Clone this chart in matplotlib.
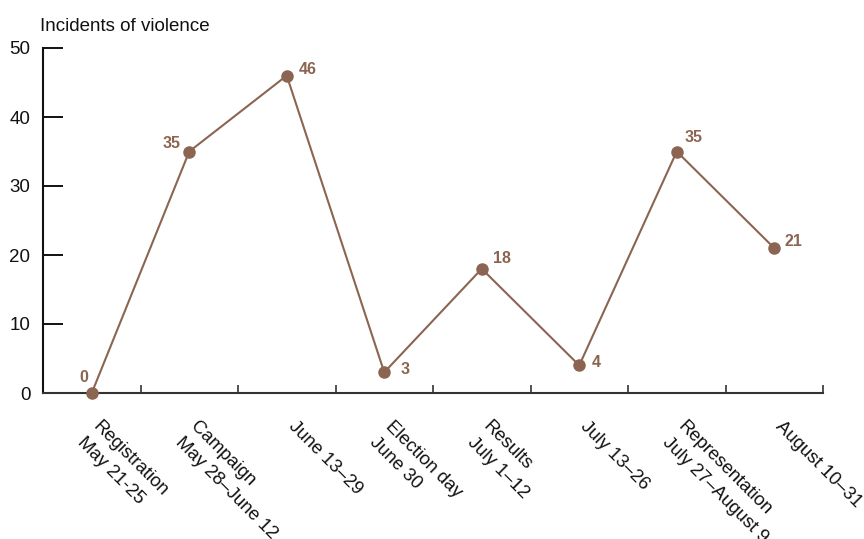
import matplotlib
matplotlib.use("Agg")
import matplotlib.pyplot as plt
from matplotlib.ticker import FixedLocator

plt.rcParams['font.family'] = ['Liberation Sans', 'DejaVu Sans']

# Periods and incident counts
periods = [
    "Registration\nMay 21-25",
    "Campaign\nMay 28\u2013June 12",
    "June 13\u201329",
    "Election day\nJune 30",
    "Results\nJuly 1\u201312",
    "July 13\u201326",
    "Representation\nJuly 27\u2013August 9",
    "August 10\u201331",
]
incidents = [0, 35, 46, 3, 18, 4, 35, 21]
y_ticks = [0, 10, 20, 30, 40, 50]

# label placement (pixel offsets from the point, alignment)
label_offsets = [(-4, 16, 'right'), (-9, 8, 'right'), (12, 6, 'left'), (16, 3, 'left'),
                 (11, 10, 'left'), (12, 3, 'left'), (8, 14, 'left'), (10, 7, 'left')]

BROWN = "#8B6551"
TEXT = "#111111"

fig = plt.figure(figsize=(8.64, 5.39), dpi=100)
ax = fig.add_axes([43/864, 1 - 393/539, (823 - 43)/864, (393 - 48)/539])

x = list(range(len(incidents)))
ax.plot(x, incidents, color=BROWN, lw=1.5, marker='o', markersize=8, zorder=3, clip_on=False)

for xi, yi, (dx, dy, ha) in zip(x, incidents, label_offsets):
    ax.annotate(str(yi), (xi, yi), xytext=(dx, dy), textcoords='offset pixels',
                ha=ha, va='center', color=BROWN, fontsize=11.5, fontweight='bold', zorder=4)

ax.set_xlim(-0.5, len(incidents) - 0.5)
ax.set_ylim(0, 50)

for s in ['top', 'right']:
    ax.spines[s].set_visible(False)
ax.spines['left'].set_linewidth(1.5)
ax.spines['left'].set_color(TEXT)
ax.spines['bottom'].set_linewidth(1.5)
ax.spines['bottom'].set_color('#333333')

ax.set_yticks(y_ticks)
ax.tick_params(axis='y', direction='in', length=14.4, width=1.4, color=TEXT,
               labelsize=13.5, pad=9, labelcolor=TEXT)

# category labels hang diagonally below each point; ticks mark the boundaries
ax.set_xticks(x)
ax.set_xticklabels([])
ax.xaxis.set_minor_locator(FixedLocator([i + 0.5 for i in x]))
ax.tick_params(axis='x', which='major', length=0)
ax.tick_params(axis='x', which='minor', direction='in', length=6, width=1.2, color='#333333')
for xi, name in zip(x, periods):
    ax.annotate(name, (xi, 0), xycoords=('data', 'axes fraction'),
                xytext=(10, -25), textcoords='offset pixels',
                rotation=-45, rotation_mode='anchor', ha='left', va='top',
                multialignment='left', linespacing=1.4, fontsize=13.3, color=TEXT,
                annotation_clip=False)

fig.text(40/864, 1 - 31/539, "Incidents of violence", fontsize=13.5, color=TEXT,
         ha='left', va='baseline')

fig.savefig("out.png", dpi=100)
